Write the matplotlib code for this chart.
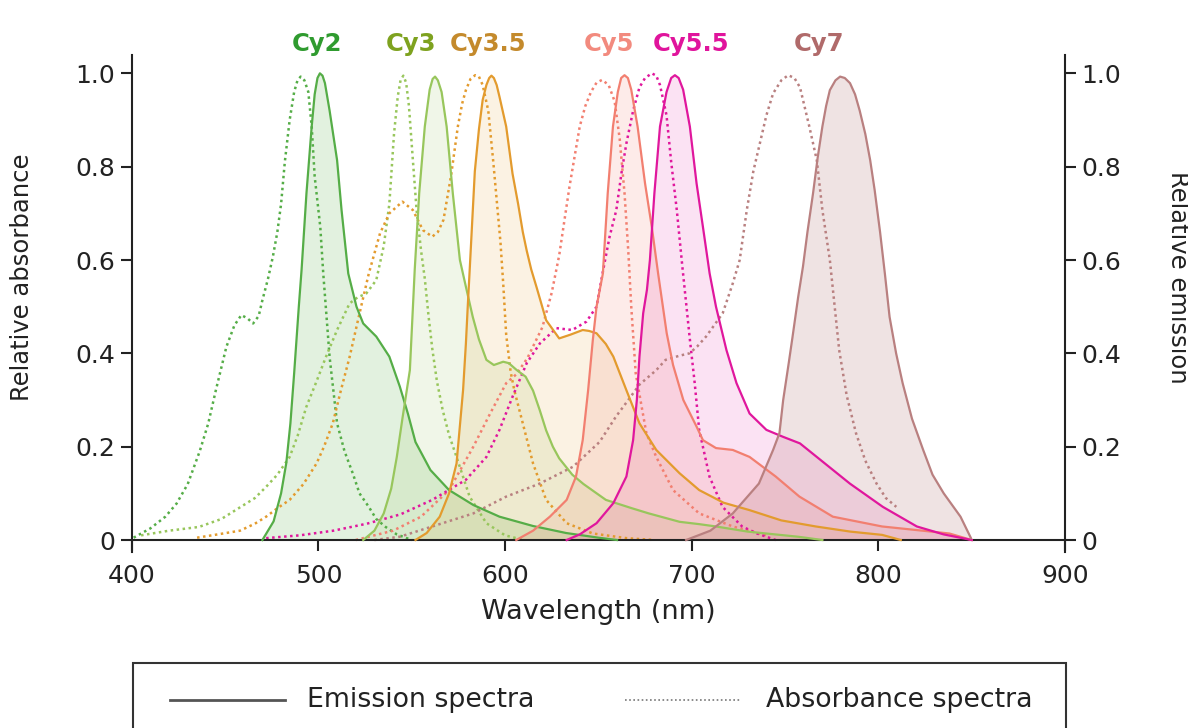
import matplotlib
matplotlib.use("Agg")
import matplotlib.pyplot as plt
from matplotlib.patches import Rectangle
from matplotlib.lines import Line2D

# ---------------- data ----------------
dyes = ["Cy2", "Cy3", "Cy3.5", "Cy5", "Cy5.5", "Cy7"]
label_pos = [499, 549.5, 591, 655.5, 699.6, 768]

cy2_em_x = [470, 476, 480, 482.8, 485, 487, 489.5, 491, 493.6, 496.4, 498, 499.5, 500.8, 502.2, 503.5, 506, 510, 512.4, 516, 520.4, 524, 531, 538, 543.6, 548, 552, 560, 570, 583, 597, 615, 632.7, 650, 660]
cy2_em_y = [0, 0.04, 0.1, 0.165, 0.25, 0.357, 0.5, 0.58, 0.743, 0.886, 0.955, 0.99, 1.0, 0.995, 0.979, 0.92, 0.814, 0.707, 0.571, 0.5, 0.464, 0.436, 0.393, 0.329, 0.27, 0.21, 0.15, 0.107, 0.075, 0.05, 0.03, 0.015, 0.005, 0]
cy2_ab_x = [401, 410, 418, 424, 430, 436.4, 441, 445, 450.7, 455, 458.7, 462, 465, 468, 470, 473, 475.6, 478, 480, 482, 484.6, 487, 488.8, 490.5, 492.5, 494.6, 496.4, 498, 501, 502.6, 506, 510, 514, 518.4, 522, 527, 531, 536, 542, 550]
cy2_ab_y = [0.005, 0.025, 0.05, 0.078, 0.12, 0.19, 0.25, 0.32, 0.414, 0.46, 0.482, 0.475, 0.464, 0.48, 0.514, 0.56, 0.607, 0.66, 0.72, 0.81, 0.9, 0.96, 0.985, 0.993, 0.985, 0.96, 0.886, 0.779, 0.671, 0.571, 0.392, 0.25, 0.19, 0.143, 0.1, 0.071, 0.045, 0.028, 0.012, 0]

cy3_em_x = [524, 530, 535, 539, 542, 545, 549, 551.6, 554, 557, 559.6, 561.2, 562.5, 564, 566, 568.7, 572, 575.8, 579, 582.7, 586, 590, 594, 599, 602, 606, 611, 615, 618.6, 622, 625.6, 629, 636, 642, 654, 668, 677, 693.5, 704, 713, 730, 757, 770]
cy3_em_y = [0, 0.02, 0.057, 0.11, 0.178, 0.26, 0.364, 0.579, 0.743, 0.886, 0.965, 0.988, 0.993, 0.985, 0.96, 0.886, 0.743, 0.6, 0.543, 0.478, 0.43, 0.386, 0.375, 0.382, 0.379, 0.365, 0.35, 0.32, 0.278, 0.235, 0.2, 0.175, 0.14, 0.12, 0.086, 0.068, 0.057, 0.039, 0.034, 0.029, 0.018, 0.007, 0]
cy3_ab_x = [405, 420, 436, 448, 458, 466, 472, 478, 484.6, 489, 493.5, 499, 504, 510, 516.7, 521, 525.6, 531, 535, 538, 540.5, 542.5, 544, 545.5, 547, 548.5, 550.5, 552.6, 555, 557, 559, 561, 563.5, 566.6, 570, 574, 581, 590, 600, 610]
cy3_ab_y = [0.01, 0.02, 0.028, 0.045, 0.07, 0.09, 0.114, 0.14, 0.178, 0.225, 0.285, 0.34, 0.392, 0.45, 0.507, 0.52, 0.528, 0.557, 0.63, 0.72, 0.87, 0.95, 0.985, 0.995, 0.98, 0.93, 0.82, 0.707, 0.62, 0.56, 0.48, 0.41, 0.34, 0.278, 0.225, 0.178, 0.093, 0.036, 0.01, 0]

cy35_em_x = [552, 558, 565, 570, 574, 577.5, 579, 580, 581, 583.8, 586, 588, 590, 591.5, 592.7, 594, 595.5, 597, 600.6, 604, 607, 609.5, 611.6, 614, 617, 622, 629, 635, 641.6, 645, 649, 654, 658, 665, 672, 681, 693.5, 704, 717, 731, 748, 766.5, 785, 802, 812]
cy35_em_y = [0, 0.015, 0.05, 0.1, 0.164, 0.321, 0.42, 0.5, 0.575, 0.79, 0.88, 0.943, 0.975, 0.99, 0.995, 0.99, 0.975, 0.95, 0.886, 0.785, 0.72, 0.66, 0.62, 0.58, 0.54, 0.471, 0.432, 0.44, 0.45, 0.448, 0.443, 0.42, 0.393, 0.321, 0.25, 0.193, 0.143, 0.107, 0.08, 0.064, 0.042, 0.029, 0.018, 0.011, 0]
cy35_ab_x = [435, 446, 458, 466, 472, 478, 484.6, 492, 499, 503, 507.7, 512, 516.7, 522, 527, 533, 538, 545, 550.6, 556, 561, 564, 567, 571, 574.7, 577, 579, 581.5, 584, 586, 588, 591, 593.6, 596, 597.5, 599, 600.6, 603, 605, 609.5, 615, 622, 633, 647, 665, 680]
cy35_ab_y = [0.005, 0.012, 0.02, 0.035, 0.05, 0.068, 0.086, 0.12, 0.164, 0.2, 0.25, 0.32, 0.392, 0.485, 0.571, 0.657, 0.7, 0.725, 0.707, 0.664, 0.65, 0.66, 0.686, 0.779, 0.886, 0.935, 0.964, 0.988, 0.996, 0.993, 0.975, 0.92, 0.814, 0.707, 0.64, 0.55, 0.44, 0.36, 0.32, 0.25, 0.164, 0.086, 0.036, 0.014, 0.004, 0]

cy5_em_x = [606, 615, 624, 633, 638, 641.6, 644.5, 647, 649, 652.4, 655, 657.8, 660.4, 662.2, 664, 665.8, 667.6, 671, 675, 678.6, 682, 686.6, 690, 695.5, 702.6, 706, 713, 722, 731, 745, 757.7, 775.6, 802, 838, 850]
cy5_em_y = [0, 0.02, 0.05, 0.086, 0.136, 0.214, 0.321, 0.428, 0.5, 0.571, 0.743, 0.886, 0.96, 0.99, 0.996, 0.99, 0.965, 0.886, 0.764, 0.671, 0.571, 0.443, 0.375, 0.3, 0.243, 0.214, 0.197, 0.193, 0.178, 0.136, 0.093, 0.05, 0.029, 0.014, 0]
cy5_ab_x = [520, 540, 555, 570, 583, 592, 600.6, 606, 612, 620, 625, 629, 634.5, 640, 643, 646, 649, 652, 655.5, 658.7, 661.4, 664, 666, 667.6, 670, 675.7, 681, 690, 704, 722, 740]
cy5_ab_y = [0, 0.02, 0.05, 0.107, 0.2, 0.271, 0.336, 0.355, 0.39, 0.456, 0.53, 0.61, 0.757, 0.886, 0.93, 0.96, 0.98, 0.986, 0.975, 0.94, 0.86, 0.743, 0.62, 0.5, 0.357, 0.229, 0.178, 0.107, 0.057, 0.029, 0.01]

cy55_em_x = [633, 640, 649, 658, 665, 668.6, 670.6, 672, 674, 676, 677.6, 680, 683, 686.5, 689, 691, 693, 695.4, 699, 702.6, 706, 709.6, 713, 718.6, 724, 731, 740, 749, 758, 767, 784.7, 802.4, 820.6, 835, 850]
cy55_em_y = [0, 0.012, 0.036, 0.079, 0.136, 0.214, 0.3, 0.393, 0.486, 0.536, 0.6, 0.743, 0.886, 0.96, 0.99, 0.996, 0.99, 0.965, 0.886, 0.764, 0.671, 0.571, 0.5, 0.407, 0.336, 0.271, 0.236, 0.221, 0.207, 0.178, 0.121, 0.071, 0.029, 0.012, 0]
cy55_ab_x = [472, 490, 508, 526, 544, 561, 579, 590, 597, 604, 611.6, 618.6, 627.5, 636, 643.6, 649, 652.4, 656, 659.6, 662.5, 665, 668.6, 672, 675, 678.6, 681, 683, 686.5, 689, 692, 695, 699, 701.6, 704, 709.5, 716.5, 727, 735, 745]
cy55_ab_y = [0.004, 0.01, 0.02, 0.035, 0.055, 0.086, 0.129, 0.178, 0.236, 0.307, 0.379, 0.421, 0.454, 0.45, 0.468, 0.5, 0.575, 0.65, 0.707, 0.79, 0.85, 0.92, 0.97, 0.99, 1.0, 0.995, 0.975, 0.91, 0.81, 0.707, 0.585, 0.43, 0.336, 0.236, 0.136, 0.071, 0.029, 0.014, 0]

cy7_em_x = [697, 710, 722, 736, 743.6, 747, 749, 752, 754, 757, 759.6, 762, 765, 767.5, 770, 772, 774, 777, 779.5, 782, 784.8, 787.5, 790, 793, 795.6, 798, 800.9, 803.5, 806, 809.5, 813, 818, 824, 829, 835, 839.5, 844, 849.6]
cy7_em_y = [0, 0.02, 0.057, 0.121, 0.193, 0.229, 0.3, 0.38, 0.435, 0.52, 0.586, 0.66, 0.743, 0.82, 0.886, 0.93, 0.964, 0.985, 0.993, 0.99, 0.979, 0.955, 0.92, 0.87, 0.814, 0.75, 0.66, 0.57, 0.478, 0.4, 0.336, 0.26, 0.193, 0.14, 0.1, 0.075, 0.05, 0.004]
cy7_ab_x = [530, 543.6, 561, 583, 600.6, 618.6, 636.4, 650.6, 659.5, 666, 672, 681, 686, 693.5, 698.8, 703, 707.7, 712, 716.6, 722, 725.7, 729.5, 733, 736.5, 740, 743.6, 748, 751.7, 755, 758, 763, 767, 770, 774, 779, 783, 788, 793, 799, 804, 809.6]
cy7_ab_y = [0, 0.007, 0.029, 0.057, 0.093, 0.121, 0.157, 0.21, 0.265, 0.3, 0.333, 0.364, 0.386, 0.395, 0.4, 0.415, 0.436, 0.46, 0.486, 0.55, 0.6, 0.707, 0.79, 0.85, 0.91, 0.957, 0.985, 0.996, 0.99, 0.97, 0.886, 0.814, 0.707, 0.6, 0.407, 0.31, 0.229, 0.17, 0.121, 0.09, 0.071]

x_ticks = [400, 500, 600, 700, 800, 900]
y_ticks = [0, 0.2, 0.4, 0.6, 0.8, 1.0]
y_ticklabels = ["0", "0.2", "0.4", "0.6", "0.8", "1.0"]

# ---------------- style ----------------
line_colors = ["#55ad47", "#98c65c", "#e39b2e", "#f27f70", "#e0179d", "#b98080"]
text_colors = ["#2f9b2f", "#7ea21f", "#c48a2c", "#f28a7e", "#e0149c", "#b06a6a"]
fill_alpha = [0.17, 0.14, 0.13, 0.15, 0.12, 0.22]

emission = [(cy2_em_x, cy2_em_y), (cy3_em_x, cy3_em_y), (cy35_em_x, cy35_em_y),
            (cy5_em_x, cy5_em_y), (cy55_em_x, cy55_em_y), (cy7_em_x, cy7_em_y)]
absorb = [(cy2_ab_x, cy2_ab_y), (cy3_ab_x, cy3_ab_y), (cy35_ab_x, cy35_ab_y),
          (cy5_ab_x, cy5_ab_y), (cy55_ab_x, cy55_ab_y), (cy7_ab_x, cy7_ab_y)]

plt.rcParams['font.family'] = ['DejaVu Sans']
axis_col = "#222222"
W, H = 1188, 728

fig = plt.figure(figsize=(11.88, 7.28), dpi=100)
ax = fig.add_axes([0.1109, 0.2422, 0.7856, 0.6827])
ax.set_xlim(400, 900)
ax.set_ylim(-0.025, 1.04)

for i in range(6):
    ex, ey = emission[i]
    ax.fill_between(ex, ey, 0, color=line_colors[i], alpha=fill_alpha[i], lw=0, zorder=1)
for i in range(6):
    axx, axy = absorb[i]
    ax.plot(axx, axy, color=line_colors[i], lw=1.8, linestyle=(0, (1, 1.4)),
            zorder=2, dash_capstyle='butt', dash_joinstyle='round')
for i in range(6):
    ex, ey = emission[i]
    ax.plot(ex, ey, color=line_colors[i], lw=1.6, zorder=3, solid_joinstyle='round')

for i in range(6):
    ax.text(label_pos[i], 1.063, dyes[i], color=text_colors[i], fontsize=17.5,
            fontweight='bold', ha='center', va='center', clip_on=False)

ax.spines['top'].set_visible(False)
ax.spines['bottom'].set_position(('data', 0))
for s in ['left', 'right', 'bottom']:
    ax.spines[s].set_linewidth(1.5)
    ax.spines[s].set_color(axis_col)

ax.set_xticks(x_ticks)
ax.set_xticklabels([str(v) for v in x_ticks])
ax.set_yticks(y_ticks)
ax.set_yticklabels(y_ticklabels)
ax.tick_params(axis='x', direction='out', length=8, width=1.5, colors=axis_col,
               labelsize=18, pad=9)
ax.tick_params(axis='y', direction='out', length=8, width=1.5, colors=axis_col,
               labelsize=18, pad=4, right=True, labelright=True)

fig.text(598 / W, 1 - 612 / H, "Wavelength (nm)", fontsize=19.5, color=axis_col,
         ha='center', va='center')
fig.text(22 / W, 1 - 277 / H, "Relative absorbance", fontsize=17.5, color=axis_col,
         ha='center', va='center', rotation=90)
fig.text(1178 / W, 1 - 277 / H, "Relative emission", fontsize=17.5, color=axis_col,
         ha='center', va='center', rotation=270)

# legend box
fig.patches.append(Rectangle((133 / W, -0.05), (1066 - 133) / W, 0.05 + 1 - 663 / H,
                             transform=fig.transFigure, fill=False, edgecolor="#333333",
                             lw=1.5, clip_on=False))
ly = 1 - 700 / H
fig.lines.append(Line2D([170 / W, 285 / W], [ly, ly], transform=fig.transFigure,
                        color="#555555", lw=2))
fig.lines.append(Line2D([625 / W, 740 / W], [ly, ly], transform=fig.transFigure,
                        color="#777777", lw=1.2, linestyle=(0, (1, 1.5))))
fig.text(307 / W, ly, "Emission spectra", fontsize=19.3, color=axis_col, ha='left', va='center')
fig.text(766 / W, ly, "Absorbance spectra", fontsize=19.3, color=axis_col, ha='left', va='center')

fig.savefig("out.png", dpi=100)
